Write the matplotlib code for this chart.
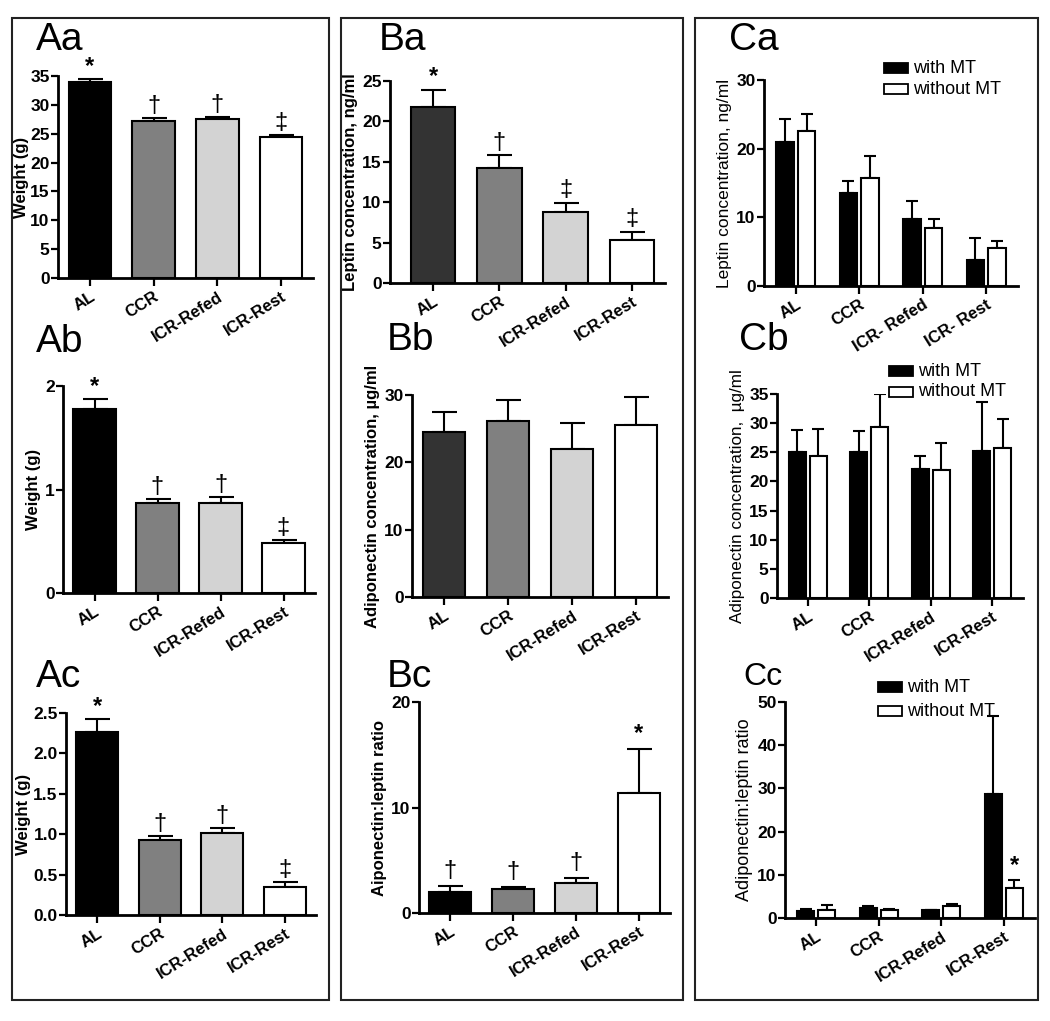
import matplotlib
matplotlib.use("Agg")
import matplotlib.pyplot as plt
import matplotlib.patches as mpatches
import numpy as np

plt.rcParams["font.family"] = ["Liberation Sans", "DejaVu Sans"]

W, H = 1050, 1021

# ── data ──────────────────────────────────────────────────────────────
groups = ["AL", "CCR", "ICR-Refed", "ICR-Rest"]
groups_ca = ["AL", "CCR", "ICR- Refed", "ICR- Rest"]

body_wt = [33.9, 27.2, 27.5, 24.4]
body_wt_err = [0.6, 0.5, 0.4, 0.4]
fat_b = [1.78, 0.87, 0.87, 0.48]
fat_b_err = [0.09, 0.04, 0.06, 0.03]
fat_c = [2.26, 0.93, 1.01, 0.35]
fat_c_err = [0.17, 0.05, 0.07, 0.06]

leptin = [21.8, 14.2, 8.8, 5.3]
leptin_err = [2.1, 1.6, 1.1, 1.0]
adipo = [24.5, 26.1, 22.0, 25.5]
adipo_err = [3.0, 3.2, 3.8, 4.2]
ratio = [2.0, 2.27, 2.84, 11.4]
ratio_err = [0.56, 0.2, 0.46, 4.1]

lep_with = [21.0, 13.6, 9.8, 3.8]
lep_with_err = [3.3, 1.7, 2.6, 3.2]
lep_without = [22.5, 15.8, 8.4, 5.6]
lep_without_err = [2.5, 3.1, 1.3, 1.0]

adi_with = [25.0, 25.0, 22.2, 25.3]
adi_with_err = [3.9, 3.6, 2.2, 8.4]
adi_without = [24.3, 29.4, 21.9, 25.7]
adi_without_err = [4.7, 5.6, 4.7, 5.0]

rat_with = [1.6, 2.3, 1.8, 28.6]
rat_with_err = [0.4, 0.4, 0.1, 18.1]
rat_without = [1.9, 1.8, 2.7, 6.9]
rat_without_err = [1.0, 0.3, 0.6, 2.0]

marks_a = ["*", "†", "†", "‡"]
marks_ba = ["*", "†", "‡", "‡"]
marks_bc = ["†", "†", "†", "*"]

GREYS_A = ["#000000", "#808080", "#d3d3d3", "#ffffff"]
GREYS_B = ["#333333", "#808080", "#d3d3d3", "#ffffff"]

fig = plt.figure(figsize=(W / 100, H / 100), dpi=100)


def px_axes(left, top, right, bottom):
    return fig.add_axes([left / W, 1 - bottom / H, (right - left) / W, (bottom - top) / H])


def style(ax, ymax, yticks, ylabel, bold_label=True, fmt=None, xlabels=groups,
          xlim=(-0.5, 3.5), lsize=12, lpad=3):
    ax.set_xlim(*xlim)
    ax.set_ylim(0, ymax)
    for s in ["top", "right"]:
        ax.spines[s].set_visible(False)
    for s in ["left", "bottom"]:
        ax.spines[s].set_linewidth(2)
    ax.set_yticks(yticks)
    if fmt:
        ax.set_yticklabels([fmt.format(t) for t in yticks])
    ax.tick_params(axis="both", width=1.6, length=5, labelsize=12.5, pad=1)
    ax.tick_params(axis="x", length=6, pad=2)
    for lab in ax.get_yticklabels():
        lab.set_fontweight("bold")
    ax.set_xticks(range(4))
    ax.set_xticklabels(xlabels, rotation=32, ha="right", rotation_mode="anchor",
                       fontsize=12, fontweight="bold")
    ax.set_ylabel(ylabel, fontsize=lsize, fontweight="bold" if bold_label else "normal",
                  labelpad=lpad)


def single_bars(ax, vals, errs, colors, marks=None, mark_off=0.0):
    x = np.arange(4)
    ax.bar(x, vals, width=0.67, color=colors, edgecolor="black", linewidth=1.5, zorder=3)
    ax.errorbar(x, vals, yerr=[np.zeros(4), errs], fmt="none", ecolor="black",
                elinewidth=1.5, capsize=9, capthick=1.5, zorder=2)
    if marks:
        top = np.array(vals) + np.array(errs)
        for xi, t, m in zip(x, top, marks):
            ax.text(xi, t + mark_off, m, ha="center", va="bottom", fontsize=17,
                    fontweight="bold" if m == "*" else "normal")


def pair_bars(ax, a, ae, b, be):
    x = np.arange(4)
    w = 0.27
    ax.bar(x - 0.17, a, width=w, color="black", edgecolor="black", linewidth=1.5, zorder=3)
    ax.bar(x + 0.17, b, width=w, color="white", edgecolor="black", linewidth=1.5, zorder=3)
    ax.errorbar(x - 0.17, a, yerr=[np.zeros(4), ae], fmt="none", ecolor="black",
                elinewidth=1.5, capsize=4, capthick=1.5, zorder=2)
    ax.errorbar(x + 0.17, b, yerr=[np.zeros(4), be], fmt="none", ecolor="black",
                elinewidth=1.5, capsize=4, capthick=1.5, zorder=2)


def legend_c(x0, y0, y1):
    # pixel positions of legend boxes
    for yy, fc, lab in [(y0, "black", "with MT"), (y1, "white", "without MT")]:
        fig.patches.append(mpatches.Rectangle((x0 / W, 1 - (yy + 10) / H), 24 / W, 10 / H,
                                              transform=fig.transFigure, facecolor=fc,
                                              edgecolor="black", linewidth=1.3))
        fig.text((x0 + 29) / W, 1 - (yy + 5) / H, lab, fontsize=13, va="center",
                 family=["Liberation Sans Narrow", "Liberation Sans"])


# ── boxes ─────────────────────────────────────────────────────────────
for l, r in [(12, 329), (341, 683), (695, 1038)]:
    fig.patches.append(mpatches.Rectangle((l / W, 1 - 1000 / H), (r - l) / W, 982 / H,
                                          transform=fig.transFigure, fill=False,
                                          edgecolor="#222222", linewidth=1.5))

# ── column A ──────────────────────────────────────────────────────────
ax = px_axes(58, 76, 313, 278)
single_bars(ax, body_wt, body_wt_err, GREYS_A, marks_a, 0.2)
style(ax, 35, range(0, 36, 5), "Weight (g)", lpad=1)

ax = px_axes(63, 386, 315, 593)
single_bars(ax, fat_b, fat_b_err, GREYS_A, marks_a, 0.01)
style(ax, 2, [0, 1, 2], "Weight (g)")

ax = px_axes(66, 713, 316, 915)
single_bars(ax, fat_c, fat_c_err, GREYS_A, marks_a, 0.01)
style(ax, 2.5, np.arange(0, 2.6, 0.5), "Weight (g)", fmt="{:.1f}", lpad=2)

# ── column B ──────────────────────────────────────────────────────────
ax = px_axes(390, 81, 665, 283)
single_bars(ax, leptin, leptin_err, GREYS_B, marks_ba, 0.2)
style(ax, 25, range(0, 26, 5), "Leptin concentration, ng/ml", xlim=(-0.65, 3.5))

ax = px_axes(412, 395, 668, 597)
single_bars(ax, adipo, adipo_err, GREYS_B)
style(ax, 30, [0, 10, 20, 30], "Adiponectin concentration, µg/ml")

ax = px_axes(419, 702, 670, 913)
single_bars(ax, ratio, ratio_err, ["#000000", "#808080", "#d3d3d3", "#ffffff"], marks_bc, 0.4)
style(ax, 20, [0, 10, 20], "Aiponectin:leptin ratio")

# ── column C ──────────────────────────────────────────────────────────
ax = px_axes(764, 80, 1018, 286)
pair_bars(ax, lep_with, lep_with_err, lep_without, lep_without_err)
style(ax, 30, [0, 10, 20, 30], "Leptin concentration, ng/ml", bold_label=False,
      xlabels=groups_ca, lsize=12.5)
legend_c(884, 63, 84)

ax = px_axes(777, 394, 1023, 598)
pair_bars(ax, adi_with, adi_with_err, adi_without, adi_without_err)
style(ax, 35, range(0, 36, 5), "Adiponectin concentration,  µg/ml", bold_label=False,
      lsize=12.3)
legend_c(889, 366, 387)

ax = px_axes(785, 702, 1035, 918)
pair_bars(ax, rat_with, rat_with_err, rat_without, rat_without_err)
style(ax, 50, range(0, 51, 10), "Adiponectin:leptin ratio", bold_label=False, lsize=13)
ax.text(3 + 0.17, rat_without[3] + rat_without_err[3] + 0.6, "*", ha="center",
        va="bottom", fontsize=17, fontweight="bold")
legend_c(878, 682, 706)

# ── panel letters ─────────────────────────────────────────────────────
for lab, x, y, fs in [("Aa", 36, 28, 28), ("Ab", 36, 330, 28), ("Ac", 36, 665, 28),
                      ("Ba", 379, 28, 28), ("Bb", 387, 328, 28), ("Bc", 387, 665, 28),
                      ("Ca", 729, 28, 28), ("Cb", 739, 328, 28), ("Cc", 743, 668, 23)]:
    fig.text(x / W, 1 - (y - 6) / H, lab, fontsize=fs, va="top", ha="left")

fig.savefig("out.png", dpi=100)
